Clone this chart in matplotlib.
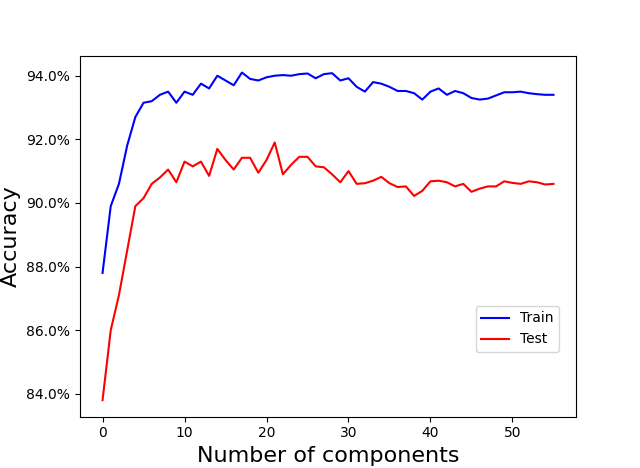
import numpy as np
import matplotlib
matplotlib.use("Agg")
import matplotlib.pyplot as plt
from matplotlib.ticker import PercentFormatter

train = [87.8, 89.9, 90.6, 91.8, 92.7, 93.15, 93.2, 93.4, 93.5, 93.15,
         93.5, 93.4, 93.75, 93.6, 94.0, 93.85, 93.7, 94.1, 93.9, 93.85,
         93.95, 94.0, 94.02, 94.0, 94.05, 94.07, 93.92, 94.05, 94.08, 93.85,
         93.92, 93.65, 93.5, 93.8, 93.75, 93.65, 93.52, 93.52, 93.45, 93.25,
         93.5, 93.6, 93.4, 93.52, 93.45, 93.3, 93.25, 93.28, 93.38, 93.48,
         93.48, 93.5, 93.45, 93.42, 93.4, 93.4]
test = [83.8, 86.0, 87.1, 88.5, 89.9, 90.15, 90.6, 90.8, 91.05, 90.65,
        91.3, 91.15, 91.3, 90.85, 91.7, 91.35, 91.05, 91.42, 91.42, 90.95,
        91.35, 91.9, 90.9, 91.2, 91.45, 91.45, 91.15, 91.12, 90.9, 90.65,
        91.0, 90.6, 90.62, 90.7, 90.82, 90.62, 90.5, 90.52, 90.22, 90.38,
        90.68, 90.7, 90.65, 90.52, 90.6, 90.35, 90.45, 90.52, 90.52, 90.68,
        90.63, 90.6, 90.68, 90.65, 90.58, 90.6]
components = np.arange(len(train))

fig, ax = plt.subplots(figsize=(6.4, 4.68), dpi=100)
ax.plot(components, np.array(train) / 100, color="blue", label="Train")
ax.plot(components, np.array(test) / 100, color="red", label="Test")
ax.yaxis.set_major_formatter(PercentFormatter(xmax=1, decimals=1))
ax.set_xlabel("Number of components", fontsize=16)
ax.set_ylabel("Accuracy", fontsize=16)
ax.legend(loc="lower right", bbox_to_anchor=(0.98, 0.16))
plt.savefig("out.png")
